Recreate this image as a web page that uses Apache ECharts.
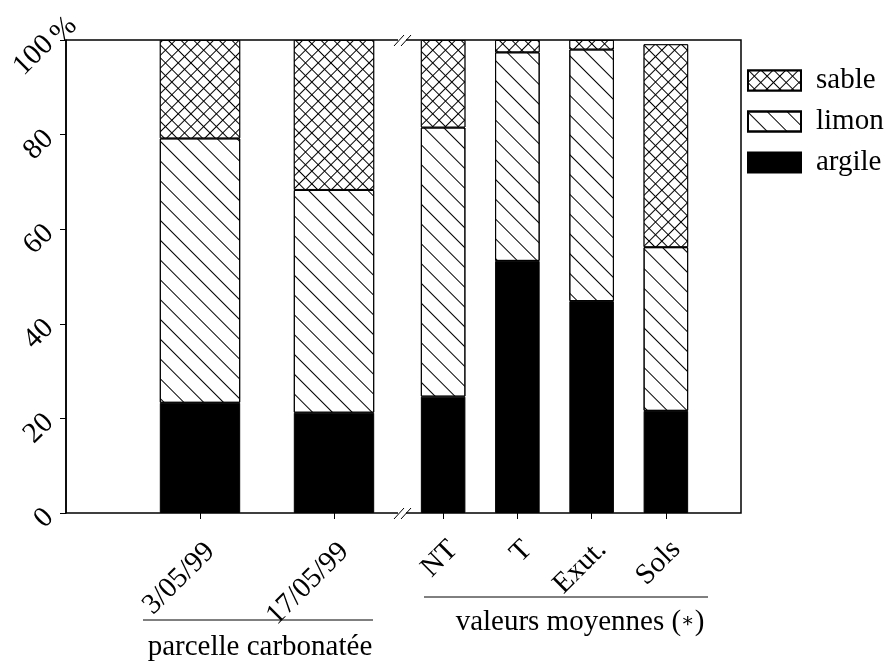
<!DOCTYPE html>
<html>
<head>
<meta charset="utf-8">
<title>granulo</title>
<script src="https://cdn.jsdelivr.net/npm/echarts@6/dist/echarts.min.js"></script>
<style>
  html, body { margin: 0; padding: 0; background: #fff; }
  #chart { width: 885px; height: 662px; }
</style>
</head>
<body>
<div id="chart"></div>
<script>
// categories
const parcelleDates = ["3/05/99", "17/05/99"];
const moyennesLabels = ["NT", "T", "Exut.", "Sols"];
// values (%)
const argileParcelle = [23.3, 21.2];
const limonParcelle = [55.9, 47.1];
const sableParcelle = [20.8, 31.7];
const argileMoyennes = [24.6, 53.3, 44.8, 21.6];
const limonMoyennes = [56.9, 44.1, 53.2, 34.6];
const sableMoyennes = [18.5, 2.6, 2.0, 42.9];
const yMin = 0, yMax = 100, yStep = 20;

const font = "Liberation Serif";
const fs = 29;

// patterns
const styles = {
    sable: {
        color: "#000",
        borderColor: "#000",
        borderWidth: 1,
        decal: {
            symbol: "rect",
            symbolSize: 1,
            color: "#fff",
            dashArrayX: [8, 1],
            dashArrayY: [8, 1],
            rotation: Math.PI / 4,
        },
    },
    limon: {
        color: "#fff",
        borderColor: "#000",
        borderWidth: 1,
        decal: {
            symbol: "rect",
            symbolSize: 1,
            color: "#000",
            dashArrayX: [1, 0],
            dashArrayY: [1, 13],
            rotation: Math.PI / 4,
        },
    },
    argile: {
        color: "#000",
        borderColor: "#000",
        borderWidth: 1,
    },
};

function barSeries(name, data, idx, stack) {
    return {
        name: name,
        type: "bar",
        stack: stack,
        xAxisIndex: idx,
        yAxisIndex: idx,
        barWidth: "60%",
        data: data,
        itemStyle: styles[name],
        emphasis: { disabled: true },
    };
}

const catAxis = (idx, data, margin) => ({
    type: "category",
    gridIndex: idx,
    data: data,
    axisLine: { show: false },
    axisTick: { show: true, alignWithLabel: true, length: 6, lineStyle: { color: "#000" } },
    axisLabel: {
        rotate: 45,
        margin: margin,
        interval: 0,
        verticalAlign: "top",
        fontFamily: font,
        fontSize: fs,
        color: "#000",
    },
});

const hiddenY = (idx) => ({
    type: "value",
    gridIndex: idx,
    min: yMin,
    max: yMax,
    interval: yStep,
    show: false,
});

const chart = echarts.init(document.getElementById("chart"));
const option = {
    animation: false,
    backgroundColor: "#fff",
    grid: [
        // cadre + axe y
        { left: 66, top: 40, width: 675, height: 473, show: true, borderColor: "#000", borderWidth: 1.5 },
        // parcelle carbonatée
        { left: 133, top: 40, width: 268, height: 473 },
        // valeurs moyennes
        { left: 406, top: 40, width: 297, height: 473 },
    ],
    legend: {
        data: ["sable", "limon", "argile"],
        orient: "vertical",
        left: 747,
        top: 66,
        padding: 0,
        icon: "rect",
        itemWidth: 53,
        itemHeight: 20,
        itemGap: 12,
        selectedMode: false,
        textStyle: { fontFamily: font, fontSize: fs, color: "#000", padding: [0, 0, 0, 10] },
    },
    xAxis: [
        { type: "value", gridIndex: 0, min: 0, max: 1, show: false },
        catAxis(1, parcelleDates, 24),
        catAxis(2, moyennesLabels, 22),
    ],
    yAxis: [
        {
            type: "value",
            gridIndex: 0,
            min: yMin,
            max: yMax,
            interval: yStep,
            axisLine: { show: true, lineStyle: { color: "#000", width: 1.5 } },
            axisTick: { show: true, length: 6, lineStyle: { color: "#000" } },
            splitLine: { show: false },
            axisLabel: { rotate: 45, margin: 17, fontFamily: font, fontSize: fs, color: "#000" },
        },
        hiddenY(1),
        hiddenY(2),
    ],
    series: [
        barSeries("argile", argileParcelle, 1, "p"),
        barSeries("limon", limonParcelle, 1, "p"),
        barSeries("sable", sableParcelle, 1, "p"),
        barSeries("argile", argileMoyennes, 2, "m"),
        barSeries("limon", limonMoyennes, 2, "m"),
        barSeries("sable", sableMoyennes, 2, "m"),
    ],
    graphic: [
        // unité de l'axe y
        {
            type: "text", x: 64, y: 30, rotation: Math.PI / 4,
            style: { text: "%", fontFamily: font, fontSize: fs, fill: "#000", align: "center", verticalAlign: "middle" },
        },
        // coupure d'axe //
        { type: "rect", shape: { x: 398, y: 36, width: 8, height: 8 }, style: { fill: "#fff" }, z: 100 },
        { type: "line", shape: { x1: 394, y1: 46, x2: 404, y2: 35 }, style: { stroke: "#000", lineWidth: 1 }, z: 101 },
        { type: "line", shape: { x1: 401, y1: 46, x2: 411, y2: 35 }, style: { stroke: "#000", lineWidth: 1 }, z: 101 },
        { type: "rect", shape: { x: 398, y: 509, width: 8, height: 8 }, style: { fill: "#fff" }, z: 100 },
        { type: "line", shape: { x1: 394, y1: 519, x2: 404, y2: 508 }, style: { stroke: "#000", lineWidth: 1 }, z: 101 },
        { type: "line", shape: { x1: 401, y1: 519, x2: 411, y2: 508 }, style: { stroke: "#000", lineWidth: 1 }, z: 101 },
        // groupes
        { type: "line", shape: { x1: 143, y1: 620, x2: 373, y2: 620 }, style: { stroke: "#000", lineWidth: 1 } },
        {
            type: "text", x: 260, y: 647,
            style: { text: "parcelle carbonatée", fontFamily: font, fontSize: fs, fill: "#000", align: "center", verticalAlign: "middle" },
        },
        { type: "line", shape: { x1: 424, y1: 597, x2: 708, y2: 597 }, style: { stroke: "#000", lineWidth: 1 } },
        {
            type: "text", x: 580, y: 622,
            style: {
                text: "valeurs moyennes ({a|\u2217})",
                fontFamily: font, fontSize: fs, fill: "#000", align: "center", verticalAlign: "middle",
                rich: { a: { fontSize: 20, fill: "#000", fontFamily: "DejaVu Serif" } },
            },
        },
    ],
};
chart.setOption(option);
</script>
</body>
</html>
